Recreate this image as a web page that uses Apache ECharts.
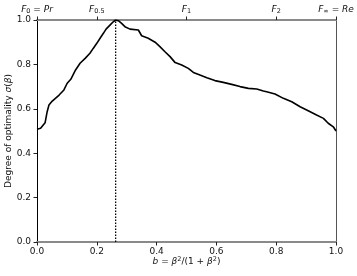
<!DOCTYPE html>
<html>
<head>
<meta charset="utf-8">
<script src="https://cdn.jsdelivr.net/npm/echarts@6/dist/echarts.min.js"></script>
<style>html,body{margin:0;padding:0;background:#fff;}#c{width:357px;height:276px;}</style>
</head>
<body>
<div id="c"></div>
<script>
var bVals = [0.000,0.012,0.027,0.034,0.040,0.051,0.074,0.090,0.101,0.113,0.129,0.144,0.161,0.177,0.188,0.200,0.211,0.222,0.231,0.244,0.255,0.263,0.272,0.283,0.294,0.311,0.317,0.339,0.350,0.372,0.395,0.411,0.428,0.445,0.462,0.484,0.506,0.523,0.545,0.568,0.595,0.623,0.651,0.679,0.707,0.735,0.757,0.768,0.796,0.824,0.852,0.880,0.907,0.935,0.958,0.974,0.991,1.000];
var sigmaVals = [0.508,0.512,0.537,0.587,0.617,0.635,0.662,0.685,0.715,0.733,0.775,0.805,0.827,0.850,0.872,0.895,0.918,0.940,0.959,0.977,0.992,1.000,0.997,0.985,0.970,0.959,0.960,0.955,0.929,0.918,0.900,0.880,0.857,0.835,0.808,0.797,0.782,0.764,0.752,0.740,0.727,0.719,0.710,0.700,0.692,0.689,0.680,0.677,0.667,0.647,0.632,0.609,0.591,0.572,0.557,0.535,0.519,0.500];
var peakB = 0.263;
var topTickVals = [0, 0.2, 0.5, 0.8, 1.0];
var topTickSubs = ['0', '0.5', '1', '2', '\u221e'];
var topTickSuffix = ['Pr', '', '', '', 'Re'];

var curve = bVals.map(function(b, i){ return [b, sigmaVals[i]]; });
var font = 'DejaVu Sans';
var txt = '#111';
var fs = 9;
var chart = echarts.init(document.getElementById('c'), null, {renderer:'canvas'});
chart.setOption({
  animation: false,
  backgroundColor: '#fff',
  grid: {left: 37, right: 21, top: 20, bottom: 34, containLabel: false, outerBoundsMode: 'none'},
  xAxis: [{
    type: 'value', min: 0, max: 1, interval: 0.2, position: 'bottom',
    axisLine: {show: true, onZero: false, lineStyle: {color: '#8a8a8a', width: 2}},
    axisTick: {show: true, length: 3.5, inside: false, lineStyle: {color: '#222', width: 1}},
    axisLabel: {fontFamily: font, fontSize: fs, color: txt, margin: 5,
      formatter: function(v){ return v.toFixed(1); }},
    splitLine: {show: false},
    name: '{i|b} = {i|\u03b2}{sup|2}/(1 + {i|\u03b2}{sup|2})',
    nameLocation: 'middle', nameGap: 14, nameMoveOverlap: false,
    nameTextStyle: {fontFamily: font, fontSize: fs, color: txt,
      rich: {i: {fontFamily: font, fontSize: fs, fontStyle: 'italic', color: txt},
             sup: {fontFamily: font, fontSize: 6.5, color: txt, verticalAlign: 'top', padding: [0,0,4,0]}}}
  }, {
    type: 'value', min: 0, max: 1, position: 'top',
    axisLine: {show: true, onZero: false, lineStyle: {color: '#8a8a8a', width: 2}},
    axisTick: {show: true, length: 3.5, customValues: topTickVals, lineStyle: {color: '#222', width: 1}},
    axisLabel: {show: true, customValues: topTickVals, margin: 5, fontFamily: font, fontSize: fs, color: txt,
      formatter: function(v){
        var idx = -1;
        for (var k = 0; k < topTickVals.length; k++) { if (Math.abs(topTickVals[k] - v) < 1e-6) idx = k; }
        if (idx < 0) return '';
        var s = '{i|F}{sub|' + topTickSubs[idx] + '}';
        if (topTickSuffix[idx]) s += '{n| = }{i|' + topTickSuffix[idx] + '}';
        return s;
      },
      rich: {i: {fontFamily: font, fontSize: fs, fontStyle: 'italic', color: txt},
             n: {fontFamily: font, fontSize: fs, color: txt},
             sub: {fontFamily: font, fontSize: 6.5, color: txt, padding: [4,0,0,0]}}},
    splitLine: {show: false}
  }],
  yAxis: [{
    type: 'value', min: 0, max: 1, interval: 0.2, position: 'left',
    axisLine: {show: true, onZero: false, lineStyle: {color: '#000', width: 1}},
    axisTick: {show: true, length: 3.5, lineStyle: {color: '#222', width: 1}},
    axisLabel: {fontFamily: font, fontSize: fs, color: txt, margin: 6,
      formatter: function(v){ return v.toFixed(1); }},
    splitLine: {show: false},
    name: 'Degree of optimality {i|\u03c3}({i|\u03b2})',
    nameLocation: 'middle', nameGap: 24, nameRotate: 90, nameMoveOverlap: false,
    nameTextStyle: {fontFamily: font, fontSize: fs, color: txt,
      rich: {i: {fontFamily: font, fontSize: fs, fontStyle: 'italic', color: txt}}}
  }, {
    type: 'value', min: 0, max: 1, position: 'right',
    axisLine: {show: true, onZero: false, lineStyle: {color: '#555', width: 1}},
    axisTick: {show: false}, axisLabel: {show: false}, splitLine: {show: false}
  }],
  series: [{
    type: 'line', data: curve, showSymbol: false, symbol: 'none',
    lineStyle: {color: '#000', width: 1.6}, z: 5
  }, {
    type: 'line', data: [[peakB, 0], [peakB, 1]], showSymbol: false, symbol: 'none',
    lineStyle: {color: '#000', width: 1.3, type: [1.5, 1.5]}, z: 4
  }]
});
</script>
</body>
</html>
